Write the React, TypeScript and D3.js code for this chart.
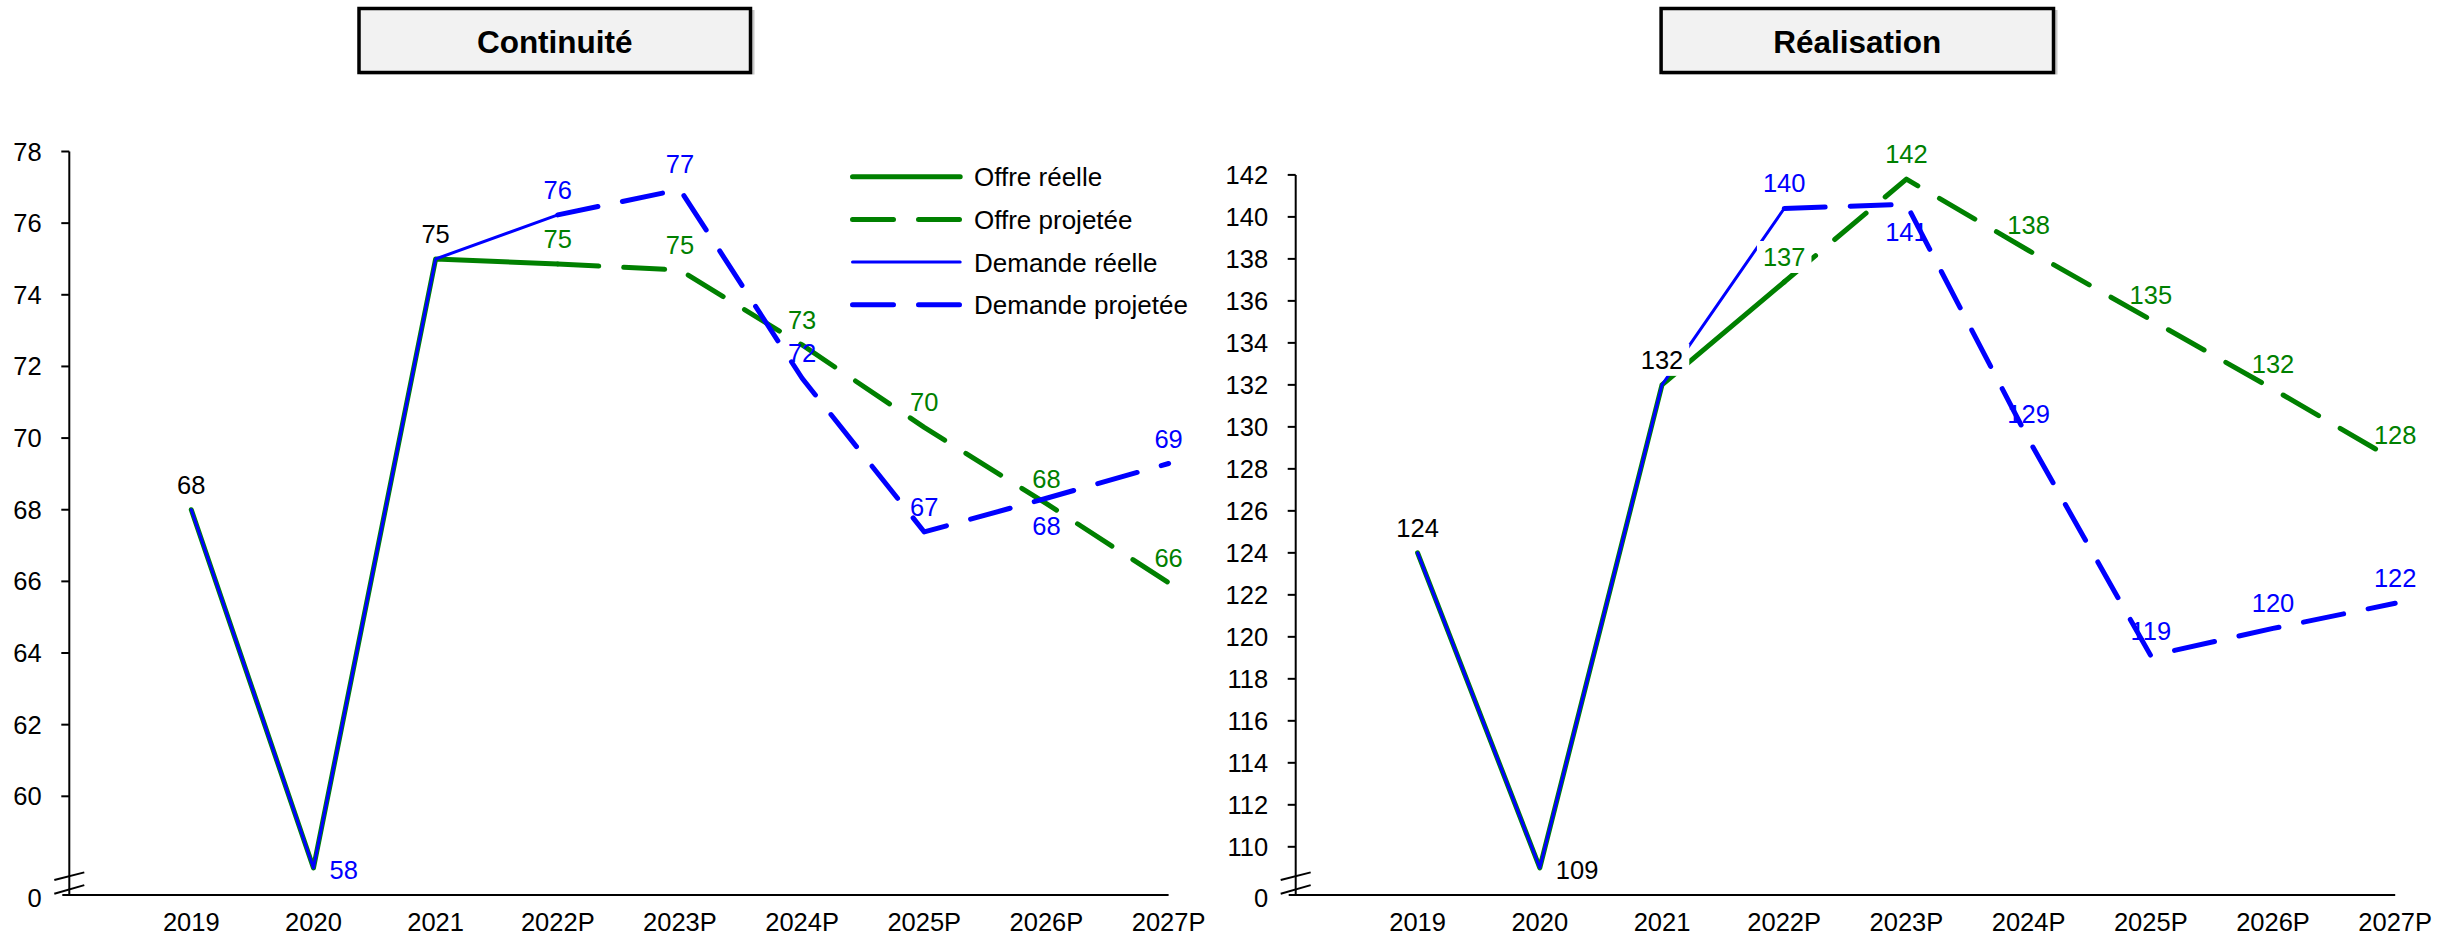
import React from 'react';
import * as d3 from 'd3';

// ---------- DATA ----------
const categories = ['2019', '2020', '2021', '2022P', '2023P', '2024P', '2025P', '2026P', '2027P'];

const contOffreReelle = [68, 58, 75, 74.86, null, null, null, null, null];
const contOffreProjetee = [null, null, null, 74.86, 74.69, 72.6, 70.3, 68.17, 65.96];
const contDemandeReelle = [68, 58, 75, 76.23, null, null, null, null, null];
const contDemandeProjetee = [null, null, null, 76.23, 76.94, 71.67, 67.38, 68.32, 69.29];
const contTicks = [60, 62, 64, 66, 68, 70, 72, 74, 76, 78];

const realOffreReelle = [124, 109, 132, 136.9, null, null, null, null, null];
const realOffreProjetee = [null, null, null, 136.9, 141.8, 138.4, 135.1, 131.8, 128.4];
const realDemandeReelle = [124, 109, 132, 140.4, null, null, null, null, null];
const realDemandeProjetee = [null, null, null, 140.4, 140.6, 129.4, 119.1, 120.4, 121.6];
const realTicks = [110, 112, 114, 116, 118, 120, 122, 124, 126, 128, 130, 132, 134, 136, 138, 140, 142];

const legendLabels = ['Offre réelle', 'Offre projetée', 'Demande réelle', 'Demande projetée'];
const titles = ['Continuité', 'Réalisation'];

// ---------- STYLE ----------
const FONT = "'Liberation Sans', Arial, Helvetica, sans-serif";
const GREEN = '#008000';
const BLUE = '#0000ff';
const FS = 25.5;
const DASH = '41 25';

type Cfg = {
  title: string;
  offreR: (number | null)[];
  offreP: (number | null)[];
  demR: (number | null)[];
  demP: (number | null)[];
  ticks: number[];
  axisX: number;
  firstX: number;
  lastX: number;
  yDomain: [number, number];
  yRange: [number, number];
  zeroY: number;
  sharedColors: string[];
  demBelow: number[];
  bgLabels: string[];
  titleBox: [number, number];
  legend: boolean;
};

const cfgs: Cfg[] = [
  {
    title: titles[0],
    offreR: contOffreReelle, offreP: contOffreProjetee, demR: contDemandeReelle, demP: contDemandeProjetee,
    ticks: contTicks,
    axisX: 69.3, firstX: 191.3, lastX: 1168.6,
    yDomain: [58, 78], yRange: [867.95, 151.5], zeroY: 895,
    sharedColors: ['#000', BLUE, '#000'],
    demBelow: [7],
    bgLabels: [],
    titleBox: [357.5, 752],
    legend: true,
  },
  {
    title: titles[1],
    offreR: realOffreReelle, offreP: realOffreProjetee, demR: realDemandeReelle, demP: realDemandeProjetee,
    ticks: realTicks,
    axisX: 1295.7, firstX: 1417.6, lastX: 2395.2,
    yDomain: [109, 142], yRange: [867.8, 174.9], zeroY: 895,
    sharedColors: ['#000', '#000', '#000'],
    demBelow: [4],
    bgLabels: ['s2', 'o3'],
    titleBox: [1659.6, 2055],
    legend: false,
  },
];

function Label({ x, y, text, color, anchor = 'middle', bg = false }: any) {
  const w = text.length * 0.556 * FS;
  const left = anchor === 'middle' ? x - w / 2 : x;
  return (
    <g>
      {bg && <rect x={left - 6} y={y - 25} width={w + 12} height={32} fill="#fff" />}
      <text x={x} y={y} fill={color} fontSize={FS} fontFamily={FONT} textAnchor={anchor}>{text}</text>
    </g>
  );
}

function Chart({ c }: { c: Cfg }) {
  const x = d3.scalePoint<string>().domain(categories).range([c.firstX, c.lastX]);
  const y = d3.scaleLinear().domain(c.yDomain).range(c.yRange);
  const line = d3
    .line<number | null>()
    .defined((d) => d != null)
    .x((_, i) => x(categories[i]) as number)
    .y((d) => y(d as number));

  const labels: any[] = [];
  for (let i = 0; i < 3; i++) {
    const v = c.offreR[i] as number;
    const px = x(categories[i]) as number;
    const py = y(v);
    const key = 's' + i;
    if (i === 1) {
      labels.push(<Label key={key} x={px + 16} y={py + 11} text={String(Math.round(v))} color={c.sharedColors[i]} anchor="start" />);
    } else {
      labels.push(<Label key={key} x={px} y={py - 16} text={String(Math.round(v))} color={c.sharedColors[i]} bg={c.bgLabels.includes(key)} />);
    }
  }
  for (let i = 3; i < categories.length; i++) {
    const px = x(categories[i]) as number;
    const vo = c.offreP[i] as number;
    const vd = c.demP[i] as number;
    const ko = 'o' + i;
    const kd = 'd' + i;
    labels.push(<Label key={ko} x={px} y={y(vo) - 16} text={String(Math.round(vo))} color={GREEN} bg={c.bgLabels.includes(ko)} />);
    const below = c.demBelow.includes(i);
    labels.push(<Label key={kd} x={px} y={below ? y(vd) + 37 : y(vd) - 16} text={String(Math.round(vd))} color={BLUE} bg={c.bgLabels.includes(kd)} />);
  }

  const [bx0, bx1] = c.titleBox;
  const top = y(c.ticks[c.ticks.length - 1]);

  return (
    <g>
      <rect x={bx0 + 2.5} y={10} width={bx1 - bx0} height={64.5} fill="#c8c8c8" />
      <rect x={bx0 + 1.5} y={8.5} width={bx1 - bx0 - 3} height={64} fill="#f2f2f2" stroke="#000" strokeWidth={3.5} />
      <text x={(bx0 + bx1) / 2} y={52.5} textAnchor="middle" fontFamily={FONT} fontWeight="bold" fontSize={31.5} fill="#000">{c.title}</text>

      <line x1={c.axisX} x2={c.axisX} y1={top} y2={c.zeroY} stroke="#000" strokeWidth={2} />
      {c.ticks.map((t) => (
        <g key={t}>
          <line x1={c.axisX - 8} x2={c.axisX} y1={y(t)} y2={y(t)} stroke="#000" strokeWidth={2} />
          <text x={c.axisX - 27.6} y={y(t) + 9} textAnchor="end" fontFamily={FONT} fontSize={FS}>{t}</text>
        </g>
      ))}
      <text x={c.axisX - 27.6} y={c.zeroY + 12} textAnchor="end" fontFamily={FONT} fontSize={FS}>0</text>
      <line x1={c.axisX - 15} x2={c.axisX + 15} y1={880} y2={872.4} stroke="#000" strokeWidth={2} />
      <line x1={c.axisX - 15} x2={c.axisX + 15} y1={893.8} y2={885.1} stroke="#000" strokeWidth={2} />

      <line x1={c.axisX - 7} x2={c.lastX} y1={c.zeroY} y2={c.zeroY} stroke="#000" strokeWidth={2.2} />
      {categories.map((cat) => (
        <text key={cat} x={x(cat)} y={931} textAnchor="middle" fontFamily={FONT} fontSize={FS}>{cat}</text>
      ))}

      <path d={line(c.offreR) || ''} fill="none" stroke={GREEN} strokeWidth={5} strokeLinejoin="round" strokeLinecap="round" />
      <path d={line(c.demR) || ''} fill="none" stroke={BLUE} strokeWidth={3} strokeLinejoin="round" strokeLinecap="round" />
      <path d={line(c.offreP) || ''} fill="none" stroke={GREEN} strokeWidth={5} strokeDasharray={DASH} strokeLinejoin="round" strokeLinecap="round" />
      <path d={line(c.demP) || ''} fill="none" stroke={BLUE} strokeWidth={5} strokeDasharray={DASH} strokeLinejoin="round" strokeLinecap="round" />

      {labels}

      {c.legend && (
        <g>
          {legendLabels.map((lab, i) => {
            const ly = 176.7 + i * 42.7;
            const color = i < 2 ? GREEN : BLUE;
            const sw = i === 2 ? 3 : 5;
            const dashed = i % 2 === 1;
            return (
              <g key={lab}>
                <line x1={852.5} x2={960.2} y1={ly} y2={ly} stroke={color} strokeWidth={sw} strokeLinecap="round" strokeDasharray={dashed ? DASH : undefined} />
                <text x={974} y={ly + 9.5} fontFamily={FONT} fontSize={26} fill="#000">{lab}</text>
              </g>
            );
          })}
        </g>
      )}
    </g>
  );
}

export default function App() {
  return (
    <svg width={2448} height={937} style={{ position: 'absolute', left: 0, top: 0, background: '#fff' }}>
      <rect x={0} y={0} width={2448} height={937} fill="#fff" />
      {cfgs.map((c) => (
        <Chart key={c.title} c={c} />
      ))}
    </svg>
  );
}
